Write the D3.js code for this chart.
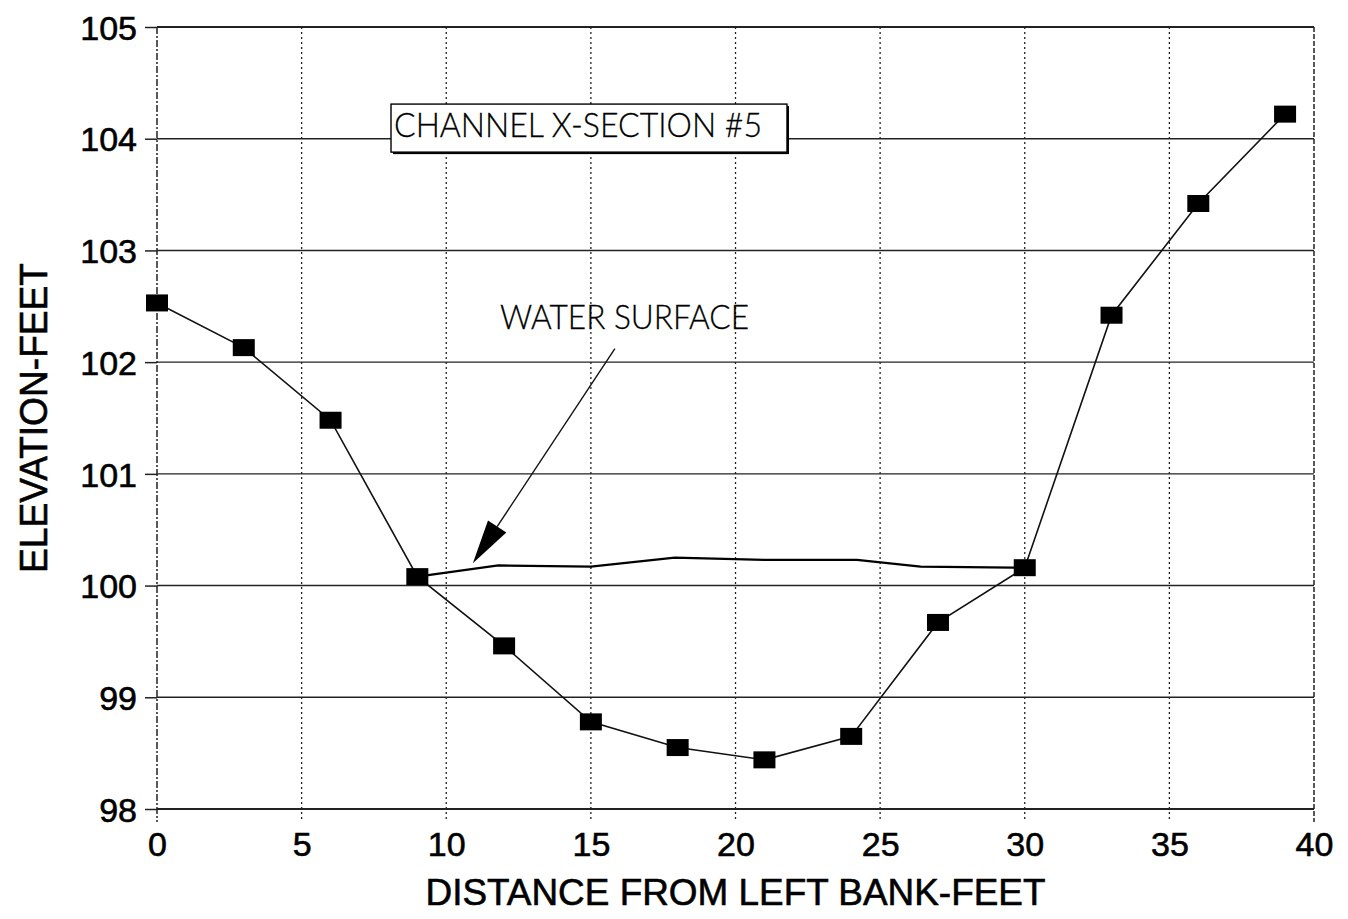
<!DOCTYPE html>
<html>
<head>
<meta charset="utf-8">
<script src="https://cdn.jsdelivr.net/npm/d3@7"></script>
<style>
  html, body { margin: 0; padding: 0; background: #fff; }
  svg { display: block; }
  text { font-family: "Liberation Sans", Arial, Helvetica, sans-serif; fill: #000; }
  .lbl { stroke: #000; stroke-width: 0.6px; }
  .note { font-family: "Lato", "Open Sans", "DejaVu Sans", sans-serif; font-weight: 300; stroke: #000; stroke-width: 0.3px; }
</style>
</head>
<body>
<svg id="chart" width="1348" height="919"></svg>
<script>
// Channel cross-section survey: station (ft from left bank) vs bed elevation (ft)
const stations   = [0, 3, 6, 9, 12, 15, 18, 21, 24, 27, 30, 33, 36, 39];
const bedElev    = [102.53, 102.13, 101.48, 100.08, 99.46, 98.78, 98.55, 98.44, 98.65, 99.67, 100.16, 102.42, 103.42, 104.22];

// Water surface profile between the wetted banks
const wsStations = [9, 11.8, 15, 17.9, 21, 24.2, 26.4, 29.6, 30];
const wsElev     = [100.08, 100.18, 100.17, 100.25, 100.23, 100.23, 100.17, 100.16, 100.16];

const xTicks = [0, 5, 10, 15, 20, 25, 30, 35, 40];
const yTicks = [98, 99, 100, 101, 102, 103, 104, 105];

const titleText = "CHANNEL X-SECTION #5";
const waterText = "WATER SURFACE";
const xTitle = "DISTANCE FROM LEFT BANK-FEET";
const yTitle = "ELEVATION-FEET";

const W = 1348, H = 919;
const margin = { top: 27, right: 34, bottom: 110, left: 157 };
const iw = W - margin.left - margin.right;
const ih = H - margin.top - margin.bottom;

const svg = d3.select("#chart");
const g = svg.append("g").attr("transform", `translate(${margin.left},${margin.top})`);

const x = d3.scaleLinear().domain([0, 40]).range([0, iw]);
const y = d3.scaleLinear().domain([98, 105]).range([ih, 0]);

// horizontal grid (solid)
g.append("g").selectAll("line").data(yTicks).join("line")
  .attr("x1", 0).attr("x2", iw)
  .attr("y1", d => y(d)).attr("y2", d => y(d))
  .attr("stroke", "#222")
  .attr("stroke-width", d => (d === 98 || d === 105) ? 2.2 : 1.4);

// vertical grid (dotted)
g.append("g").selectAll("line").data(xTicks).join("line")
  .attr("x1", d => x(d)).attr("x2", d => x(d))
  .attr("y1", 0).attr("y2", ih + 13)
  .attr("stroke", "#222")
  .attr("stroke-width", d => (d === 0 || d === 40) ? 1.5 : 1.3)
  .attr("stroke-dasharray", d => d === 0 ? "7,2,2,2" : (d === 40 ? "5,2" : "2,3"));

// axes
const xAxis = g.append("g").attr("transform", `translate(0,${ih})`)
  .call(d3.axisBottom(x).tickValues(xTicks).tickFormat(d3.format("d")).tickSize(0).tickPadding(23));
xAxis.select(".domain").remove();
xAxis.selectAll("text").attr("class", "lbl").style("font-size", "34px");

const yAxis = g.append("g")
  .call(d3.axisLeft(y).tickValues(yTicks).tickFormat(d3.format("d")).tickSize(12).tickPadding(8));
yAxis.select(".domain").remove();
yAxis.selectAll("line").attr("stroke", "#222").attr("stroke-width", 1.5).attr("x2", 0).attr("x1", -12);
yAxis.selectAll("text").attr("class", "lbl").style("font-size", "34px").attr("dy", "0.36em");

// axis titles
svg.append("text").attr("class", "lbl")
  .attr("x", margin.left + iw / 2).attr("y", 905)
  .attr("text-anchor", "middle")
  .attr("textLength", 620).attr("lengthAdjust", "spacingAndGlyphs")
  .style("font-size", "37px")
  .text(xTitle);

svg.append("text").attr("class", "lbl")
  .attr("transform", `translate(47,${margin.top + ih / 2}) rotate(-90)`)
  .attr("text-anchor", "middle")
  .attr("textLength", 310).attr("lengthAdjust", "spacingAndGlyphs")
  .style("font-size", "38px")
  .text(yTitle);

// water surface
const line = d3.line().x(d => x(d[0])).y(d => y(d[1]));
g.append("path")
  .datum(d3.zip(wsStations, wsElev))
  .attr("d", line)
  .attr("fill", "none").attr("stroke", "#000").attr("stroke-width", 2.2);

// channel bed profile
const bed = d3.zip(stations, bedElev);
g.append("path")
  .datum(bed)
  .attr("d", line)
  .attr("fill", "none").attr("stroke", "#111").attr("stroke-width", 1.6);

g.append("g").selectAll("rect").data(bed).join("rect")
  .attr("x", d => x(d[0]) - 11).attr("y", d => y(d[1]) - 8.5)
  .attr("width", 22).attr("height", 17)
  .attr("fill", "#000");

// title box
const bx0 = x(8.09), bx1 = x(21.78), by0 = y(104.31), by1 = y(103.88);
g.append("rect")
  .attr("x", bx0 + 2).attr("y", by0 + 2).attr("width", bx1 - bx0).attr("height", by1 - by0)
  .attr("fill", "#000");
g.append("rect")
  .attr("x", bx0).attr("y", by0).attr("width", bx1 - bx0).attr("height", by1 - by0)
  .attr("fill", "#fff").attr("stroke", "#000").attr("stroke-width", 1.4);
g.append("text").attr("class", "note")
  .attr("x", bx0 + 3).attr("y", by0 + 33)
  .attr("textLength", 368).attr("lengthAdjust", "spacingAndGlyphs")
  .style("font-size", "33px")
  .text(titleText);

// water surface callout
g.append("text").attr("class", "note")
  .attr("x", x(11.86)).attr("y", y(102.3))
  .attr("textLength", 249).attr("lengthAdjust", "spacingAndGlyphs")
  .style("font-size", "33px")
  .text(waterText);

const a0 = [x(15.83), y(102.12)], a1 = [x(10.92), y(100.20)];
const dx = a1[0] - a0[0], dy = a1[1] - a0[1];
const len = Math.hypot(dx, dy), ux = dx / len, uy = dy / len;
const headLen = 44, headHalf = 11;
const base = [a1[0] - ux * headLen, a1[1] - uy * headLen];
g.append("line")
  .attr("x1", a0[0]).attr("y1", a0[1]).attr("x2", base[0]).attr("y2", base[1])
  .attr("stroke", "#111").attr("stroke-width", 1.4);
g.append("path")
  .attr("d", `M${a1[0]},${a1[1]} L${base[0] - uy * headHalf},${base[1] + ux * headHalf} L${base[0] + uy * headHalf},${base[1] - ux * headHalf} Z`)
  .attr("fill", "#000");
</script>
</body>
</html>
